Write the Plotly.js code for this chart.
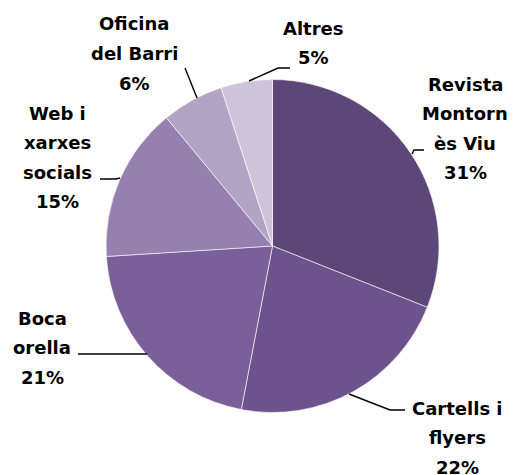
<!DOCTYPE html>
<html>
<head>
<meta charset="utf-8">
<script src="https://cdn.plot.ly/plotly-3.0.1.min.js"></script>
<style>html,body{margin:0;padding:0;background:#fff;}#chart{width:515px;height:475px;}</style>
</head>
<body>
<div id="chart"></div>
<script>
// Data
var categories = ["Revista Montornès Viu", "Cartells i flyers", "Boca orella", "Web i xarxes socials", "Oficina del Barri", "Altres"];
var values = [31, 22, 21, 15, 6, 5];
var labelLines = [
  ["Revista", "Montorn", "ès Viu"],
  ["Cartells i", "flyers"],
  ["Boca", "orella"],
  ["Web i", "xarxes", "socials"],
  ["Oficina", "del Barri"],
  ["Altres"]
];
var colors = ["#5c4778", "#6d538b", "#7b5f99", "#9580b0", "#b1a5c6", "#cdc4da"];

// Layout helpers (pixel positions of label blocks and leader lines)
var W = 515, H = 475;
var labelPos = [
  {x: 465, y: 84},
  {x: 457, y: 408},
  {x: 42, y: 318},
  {x: 57, y: 113},
  {x: 134, y: 24},
  {x: 313, y: 28}
];
var leaders = [
  [[412, 154], [414, 150], [424, 150]],
  [[349, 394], [390, 410], [405, 410]],
  [[147, 354], [78, 354]],
  [[120, 178], [116, 179], [100, 179]],
  [[197, 98], [185, 68]],
  [[249, 81], [278, 68], [290, 68]]
];
var lineGap = 29.5;

function px(x) { return x / W; }
function py(y) { return 1 - y / H; }

var total = values.reduce(function (a, b) { return a + b; }, 0);
var annotations = [];
categories.forEach(function (c, i) {
  var lines = labelLines[i].concat([Math.round(values[i] / total * 100) + "%"]);
  lines.forEach(function (t, j) {
    annotations.push({
      xref: "paper", yref: "paper",
      x: px(labelPos[i].x), y: py(labelPos[i].y + j * lineGap),
      xanchor: "center", yanchor: "middle",
      text: "<b>" + t + "</b>", showarrow: false,
      font: {family: "DejaVu Sans", size: 18, color: "#000"}
    });
  });
});

var shapes = leaders.map(function (pts) {
  var d = pts.map(function (p, k) { return (k ? "L" : "M") + px(p[0]) + "," + py(p[1]); }).join(" ");
  return {type: "path", xref: "paper", yref: "paper", path: d, line: {color: "#000", width: 1.4}};
});

var trace = {
  type: "pie",
  labels: categories,
  values: values,
  sort: false,
  direction: "clockwise",
  rotation: 0,
  textinfo: "none",
  hoverinfo: "label+percent",
  marker: {colors: colors, line: {color: "#ffffff", width: 0.6}},
  domain: {x: [106 / W, 439 / W], y: [1 - 412.5 / H, 1 - 79.5 / H]},
  showlegend: false
};

var layout = {
  width: W, height: H,
  margin: {l: 0, r: 0, t: 0, b: 0},
  paper_bgcolor: "#fff",
  showlegend: false,
  annotations: annotations,
  shapes: shapes
};

Plotly.newPlot("chart", [trace], layout, {displayModeBar: false, staticPlot: true});
</script>
</body>
</html>
